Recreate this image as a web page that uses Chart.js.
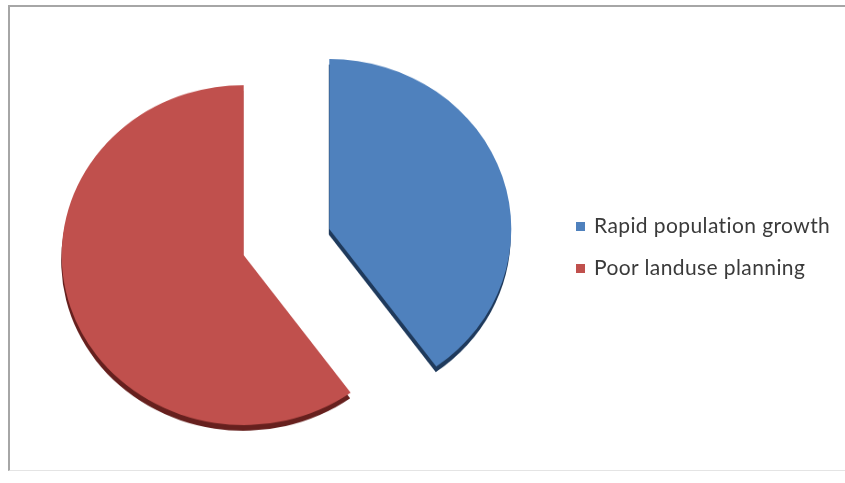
<!DOCTYPE html>
<html>
<head>
<meta charset="utf-8">
<script src="https://cdn.jsdelivr.net/npm/chart.js@4.4.0/dist/chart.umd.min.js"></script>
<style>
  html, body { margin: 0; padding: 0; background: #fff; }
  #wrap { position: relative; width: 845px; height: 483px; overflow: hidden; }
  #frame { position: absolute; left: 8px; top: 5px; width: 845px; height: 466px; border-left: 2px solid #a6a6a6; border-top: 2px solid #a6a6a6; border-bottom: 1px solid #e4e4e4; box-sizing: border-box; }
  #myChart { position: absolute; left: 0; top: 0; transform-origin: 0 243px; transform: scaleY(0.934); }
  #legend { position: absolute; left: 576px; top: 210px; font-family: Lato, "Open Sans", sans-serif; font-size: 21px; letter-spacing: 0.4px; color: #3a3a3a; }
  #legend div { height: 42px; line-height: 30px; white-space: nowrap; }
  #legend span.box { display: inline-block; width: 9px; height: 9px; margin-right: 9px; vertical-align: 2px; }
</style>
</head>
<body>
<div id="wrap">
  <div id="frame"></div>
  <canvas id="myChart" width="845" height="483"></canvas>
  <div id="legend"></div>
</div>
<script>
const causes = ['Rapid population growth', 'Poor landuse planning'];
const shares = [40, 60];
const sliceColors = ['#4f81bd', '#c0504d'];
const edgeColors = ['#1f3a5c', '#66201e'];
const explode = 45;

// draw each slice pushed out from the centre, with a dark rim underneath for the 3d look
const explodePlugin = {
  id: 'explode',
  beforeDatasetDraw(chart, args) {
    const ctx = chart.ctx;
    args.meta.data.forEach((arc, i) => {
      const p = arc.getProps(['x', 'y', 'startAngle', 'endAngle', 'outerRadius']);
      const mid = (p.startAngle + p.endAngle) / 2;
      const dx = Math.cos(mid) * explode, dy = Math.sin(mid) * explode;
      ctx.save();
      ctx.translate(dx - 0.5, dy + 6);
      ctx.beginPath();
      ctx.moveTo(p.x, p.y);
      ctx.arc(p.x, p.y, p.outerRadius, p.startAngle, p.endAngle);
      ctx.closePath();
      ctx.fillStyle = edgeColors[i];
      ctx.fill();
      ctx.restore();
      ctx.save();
      ctx.translate(dx, dy);
      arc.draw(ctx);
      ctx.restore();
    });
    return false;
  }
};

const ctx = document.getElementById('myChart');
const myChart = new Chart(ctx, {
  type: 'pie',
  data: {
    labels: causes,
    datasets: [{
      data: shares,
      backgroundColor: sliceColors,
      borderWidth: 0
    }]
  },
  options: {
    responsive: false,
    animation: false,
    radius: 182,
    layout: { padding: { left: 0, right: 272, top: 2, bottom: 1 } },
    plugins: {
      legend: { display: false },
      tooltip: { enabled: false }
    }
  },
  plugins: [explodePlugin]
});

const legend = document.getElementById('legend');
causes.forEach((name, i) => {
  const row = document.createElement('div');
  const box = document.createElement('span');
  box.className = 'box';
  box.style.background = sliceColors[i];
  row.appendChild(box);
  row.appendChild(document.createTextNode(name));
  legend.appendChild(row);
});
</script>
</body>
</html>
